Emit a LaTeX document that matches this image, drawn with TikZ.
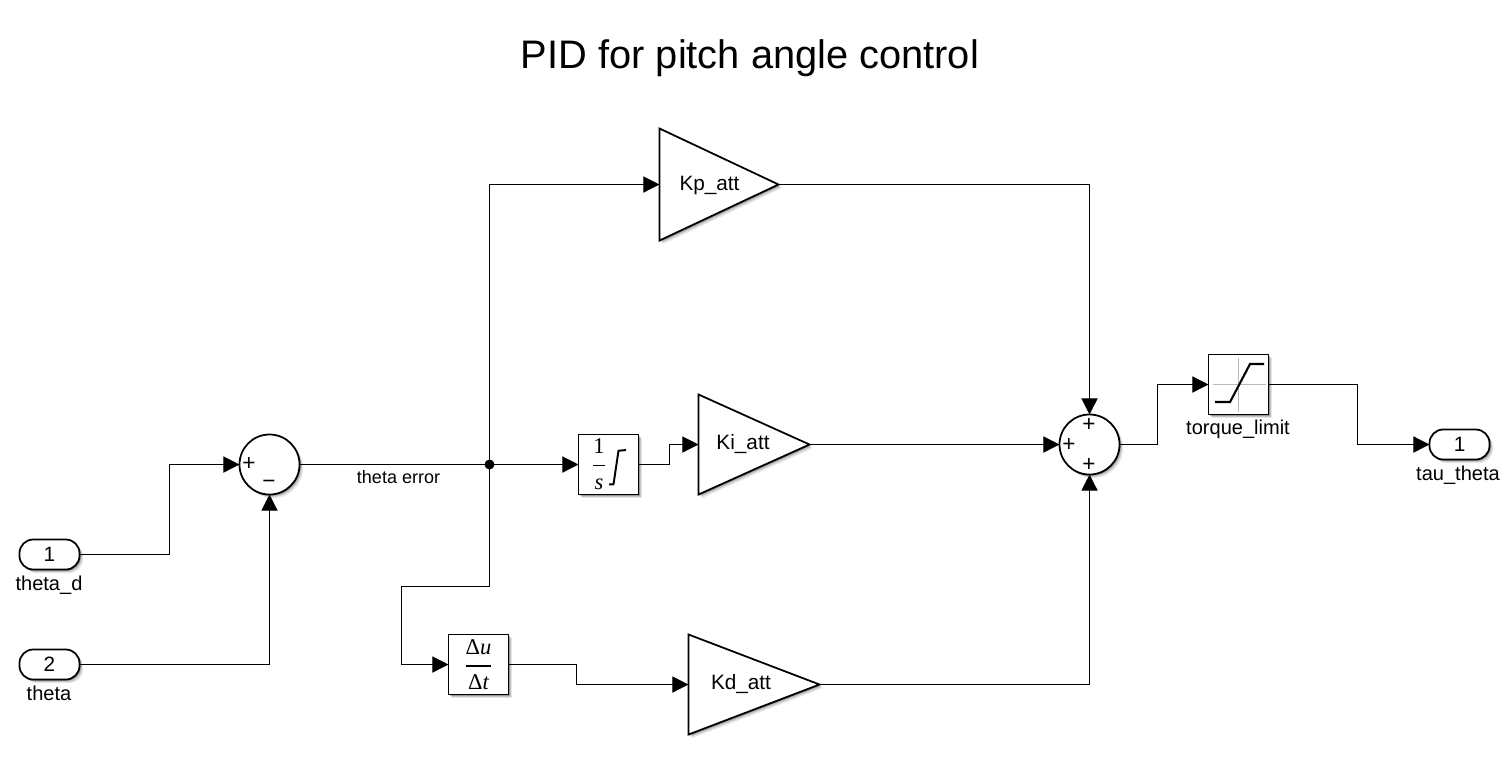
\documentclass[tikz,border=0pt]{standalone}
\usepackage{fontspec}
\setmainfont{Liberation Sans}
\newfontfamily\blocksym{Liberation Serif}
\usetikzlibrary{arrows.meta,calc}
\tikzset{
  softshadow/.style={
    preaction={draw=none,fill=black,opacity=.10,transform canvas={xshift=1.0pt,yshift=-1.0pt}},
    preaction={draw=none,fill=black,opacity=.14,transform canvas={xshift=.65pt,yshift=-.65pt}},
    preaction={draw=none,fill=black,opacity=.22,transform canvas={xshift=.35pt,yshift=-.35pt}}},
  blockline/.style={draw=black,line width=.5pt,fill=white,outer sep=0pt,inner sep=0pt},
  blockbox/.style={blockline,softshadow,minimum width=.6cm,minimum height=.6cm},
  sumcircle/.style={blockline,softshadow,circle,minimum size=.6cm},
  portshape/.style={blockline,softshadow,rounded corners=3.9pt,minimum width=.6cm,minimum height=.3cm,font=\fontsize{5.9}{7}\selectfont},
  gainanchor/.style={rectangle,draw=none,fill=none,inner sep=0pt,outer sep=0pt},
  gainshape/.style={blockline,softshadow,line join=miter},
  lab/.style={inner sep=0pt,outer sep=0pt,font=\fontsize{5.7}{7}\selectfont},
  gainlab/.style={inner sep=0pt,outer sep=0pt,font=\fontsize{5.9}{7}\selectfont},
  wirelab/.style={inner sep=0pt,outer sep=0pt,font=\fontsize{5.12}{6}\selectfont},
  sign/.style={inner sep=0pt,outer sep=0pt,font=\fontsize{6.4}{7}\selectfont},
  wire/.style={draw=black,line width=.36pt,line join=miter},
  arrowwire/.style={wire,-{Triangle[length=4.6pt,width=4.6pt]}},
  mathsym/.style={inner sep=0pt,outer sep=0pt,font=\fontsize{6.4}{8}\blocksym\selectfont},
}
\begin{document}
\begin{tikzpicture}[x=0.01cm,y=-0.01cm]
\useasboundingbox[fill=white] (0,0) rectangle (1510,766);
\node[inner sep=0pt,font=\fontsize{11.32}{13}\selectfont] (title) at (750,58) {PID for pitch angle control};

% ports
\node[portshape] (p1) at (49.5,554.5) {1};
\node[portshape] (p2) at (49.5,664.5) {2};
\node[portshape] (p3) at (1459.5,444.5) {1};
\node[lab] (p1l) at (49,585) {theta\_d};
\node[lab] (p2l) at (49,693) {theta};
\node[lab] (p3l) at (1458,475) {tau\_theta};

% sums
\node[sumcircle] (s1) at (269.5,464.5) {};
\node[sign] (s1a) at (249,464) {+};
\node[sign] (s1b) at (269,484) {−};
\node[sumcircle] (s2) at (1089.5,444.5) {};
\node[sign] (s2a) at (1089,425) {+};
\node[sign] (s2b) at (1069,445) {+};
\node[sign] (s2c) at (1089,465) {+};

% gains
\node[gainanchor,minimum width=1.19cm,minimum height=1.12cm] (kp) at (719,184.5) {};
\node[gainanchor,minimum width=1.11cm,minimum height=1cm] (ki) at (754,444.5) {};
\node[gainanchor,minimum width=1.31cm,minimum height=1cm] (kd) at (754,684.5) {};
\path[gainshape] (kp.north west) -- (kp.east) -- (kp.south west) -- cycle;
\path[gainshape] (ki.north west) -- (ki.east) -- (ki.south west) -- cycle;
\path[gainshape] (kd.north west) -- (kd.east) -- (kd.south west) -- cycle;
\node[gainlab] (kpt) at (709.5,186) {Kp\_att};
\node[gainlab] (kit) at (743,444.5) {Ki\_att};
\node[gainlab] (kdt) at (741,684.5) {Kd\_att};

% integrator
\node[blockbox] (int) at (608.5,464.5) {};
\node[mathsym] (intf) at (599,464) {$\displaystyle\frac{\mbox{1}}{\mbox{\itshape s}}$};
\draw[line width=.55pt,line join=round] ($(int.center)+(0.5,19.8)$) -- ($(int.center)+(5,19.8)$) -- ($(int.center)+(10,-13.8)$) -- ($(int.center)+(17.5,-14.5)$);

% derivative
\node[blockbox] (der) at (478.5,664.5) {};
\node[mathsym] (derf) at (478.5,664.5) {$\displaystyle\frac{\mbox{Δ\itshape u}}{\mbox{Δ\itshape t}}$};

% saturation
\node[blockbox] (sat) at (1238.5,384.5) {};
\draw[gray!55,line width=.45pt] ($(sat.center)+(-26,0)$) -- ($(sat.center)+(27,0)$);
\draw[gray!55,line width=.45pt] ($(sat.center)+(0,-27)$) -- ($(sat.center)+(0,27)$);
\draw[black,line width=.6pt] ($(sat.center)+(-23.5,17.5)$) -- ($(sat.center)+(-8.5,17.5)$) -- ($(sat.center)+(11.5,-20.5)$) -- ($(sat.center)+(25.5,-20.5)$);
\node[lab] (satl) at (1238,429.5) {torque\_limit};

% bends
\coordinate (j) at (489.5,464.5);
\coordinate (b1) at (169.5,464.5);
\coordinate (b2) at (269.5,664.5);
\coordinate (b3) at (489.5,184.5);
\coordinate (b4) at (669.5,444.5);
\coordinate (b5) at (489.5,586.5);
\coordinate (b6) at (401.5,664.5);
\coordinate (b7) at (576.5,684.5);
\coordinate (b8) at (1157.5,384.5);
\coordinate (b9) at (1357.5,444.5);
\coordinate (b10) at (1089.5,184.5);
\coordinate (b11) at (1089.5,684.5);

% wires
\draw[arrowwire] (p1.east) -| (b1) -- (s1.west);
\draw[arrowwire] (p2.east) -- (b2) -- (s1.south);
\draw[wire] (s1.east) -- (j);
\draw[arrowwire] (j) -- (int.west);
\draw[arrowwire] (j) -- (b3) -- (kp.west);
\draw[wire] (j) -- (b5);
\draw[arrowwire] (b5) -| (b6) -- (der.west);
\draw[arrowwire] (int.east) -| (b4) -- (ki.west);
\draw[arrowwire] (der.east) -| (b7) -- (kd.west);
\draw[arrowwire] (kp.east) -- (b10) -- (s2.north);
\draw[arrowwire] (ki.east) -- (s2.west);
\draw[arrowwire] (kd.east) -- (b11) -- (s2.south);
\draw[arrowwire] (s2.east) -| (b8) -- (sat.west);
\draw[arrowwire] (sat.east) -| (b9) -- (p3.west);
\fill[black] (j) circle[radius=.05cm];
\node[wirelab] (tel) at (398.5,477) {theta error};
\end{tikzpicture}
\end{document}
